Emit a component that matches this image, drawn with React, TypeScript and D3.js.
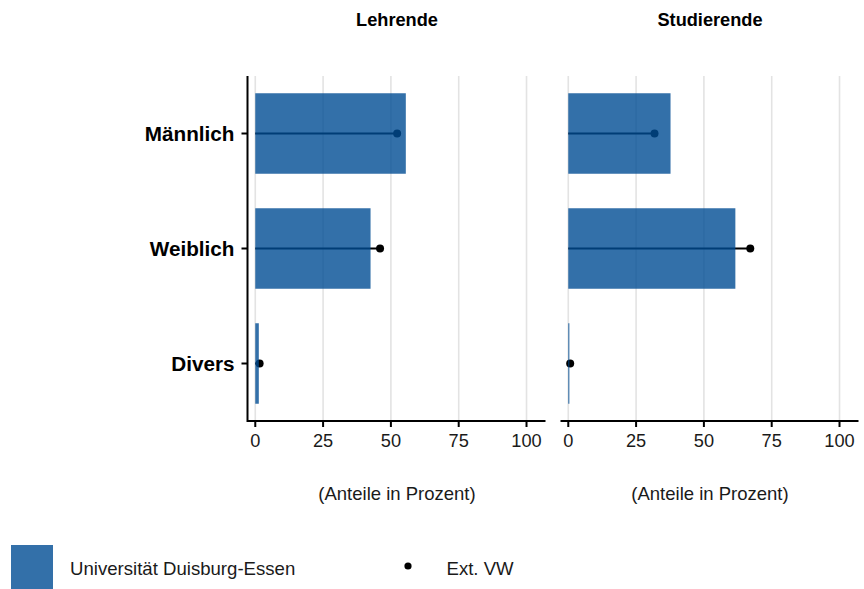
import React from "react";
import * as d3 from "d3";

const categories = ["Männlich", "Weiblich", "Divers"];
const panels = ["Lehrende", "Studierende"];
// University values (bars) per panel
const udeLehrende = [55.5, 42.5, 1.3];
const udeStudierende = [37.7, 61.6, 0.4];
// External comparison values (points)
const extLehrende = [52.3, 46.0, 1.6];
const extStudierende = [31.8, 67.1, 0.7];
const xTicks = [0, 25, 50, 75, 100];
const xAxisTitle = "(Anteile in Prozent)";
const legendLabels = ["Universität Duisburg-Essen", "Ext. VW"];

const FONT = "'Liberation Sans', Arial, Helvetica, sans-serif";
const BAR = "#004c93";

export default function App() {
  const W = 864;
  const H = 589;
  const panelRanges: [number, number][] = [
    [248.5, 545.5],
    [561.5, 858.5],
  ];
  const top = 76;
  const bottom = 421;
  const y = d3
    .scaleBand<string>()
    .domain(categories)
    .range([top, bottom])
    .paddingInner(0.3)
    .paddingOuter(0.15);

  const barData = [udeLehrende, udeStudierende];
  const extData = [extLehrende, extStudierende];

  return (
    <div style={{ position: "absolute", left: 0, top: 0 }}>
      <svg width={W} height={H} style={{ display: "block", fontFamily: FONT }}>
        <rect x={0} y={0} width={W} height={H} fill="#fff" />
        {panels.map((p, pi) => {
          const [x0, x1] = panelRanges[pi];
          const x = d3.scaleLinear().domain([-2.5, 107]).range([x0, x1]);
          const cx = (x0 + x1) / 2;
          return (
            <g key={p}>
              <text x={cx} y={26} textAnchor="middle" fontWeight="bold" fontSize={18.2} fill="#000">
                {p}
              </text>
              {xTicks.map((t) => (
                <line key={"g" + t} x1={x(t)} x2={x(t)} y1={top} y2={bottom} stroke="#e3e3e3" strokeWidth={1.6} />
              ))}
              {categories.map((c, i) => {
                const yc = (y(c) as number) + y.bandwidth() / 2;
                return (
                  <g key={"e" + c}>
                    <line x1={x(0)} x2={x(extData[pi][i])} y1={yc} y2={yc} stroke="#000" strokeWidth={2} />
                    <circle cx={x(extData[pi][i])} cy={yc} r={4} fill="#000" />
                  </g>
                );
              })}
              {categories.map((c, i) => (
                <rect
                  key={"b" + c}
                  x={x(0)}
                  y={y(c) as number}
                  width={Math.max(0, x(barData[pi][i]) - x(0))}
                  height={y.bandwidth()}
                  fill={BAR}
                  fillOpacity={0.8}
                />
              ))}
              <line x1={x0 - 1} x2={x1} y1={bottom} y2={bottom} stroke="#000" strokeWidth={2} />
              {xTicks.map((t) => (
                <g key={"t" + t}>
                  <line x1={x(t)} x2={x(t)} y1={bottom} y2={bottom + 6} stroke="#000" strokeWidth={2} />
                  <text x={x(t)} y={447} textAnchor="middle" fontSize={18.2} fill="#1a1a1a">
                    {t}
                  </text>
                </g>
              ))}
              <text x={cx} y={500} textAnchor="middle" fontSize={18.5} fill="#1a1a1a">
                {xAxisTitle}
              </text>
              {pi === 0 && (
                <g>
                  <line x1={x0 - 1} x2={x0 - 1} y1={top} y2={bottom + 1} stroke="#000" strokeWidth={2} />
                  {categories.map((c) => {
                    const yc = (y(c) as number) + y.bandwidth() / 2;
                    return (
                      <g key={"y" + c}>
                        <line x1={x0 - 7} x2={x0 - 1} y1={yc} y2={yc} stroke="#000" strokeWidth={2} />
                        <text x={x0 - 14} y={yc + 7.5} textAnchor="end" fontWeight="bold" fontSize={20.7} fill="#000">
                          {c}
                        </text>
                      </g>
                    );
                  })}
                </g>
              )}
            </g>
          );
        })}
        {/* Legend */}
        <rect x={11} y={545} width={42} height={46} fill={BAR} fillOpacity={0.8} />
        <text x={70} y={575} fontSize={18.6} fill="#1a1a1a">
          {legendLabels[0]}
        </text>
        <circle cx={408} cy={566} r={3.6} fill="#000" />
        <text x={446.5} y={575} fontSize={18.6} fill="#1a1a1a">
          {legendLabels[1]}
        </text>
      </svg>
    </div>
  );
}
